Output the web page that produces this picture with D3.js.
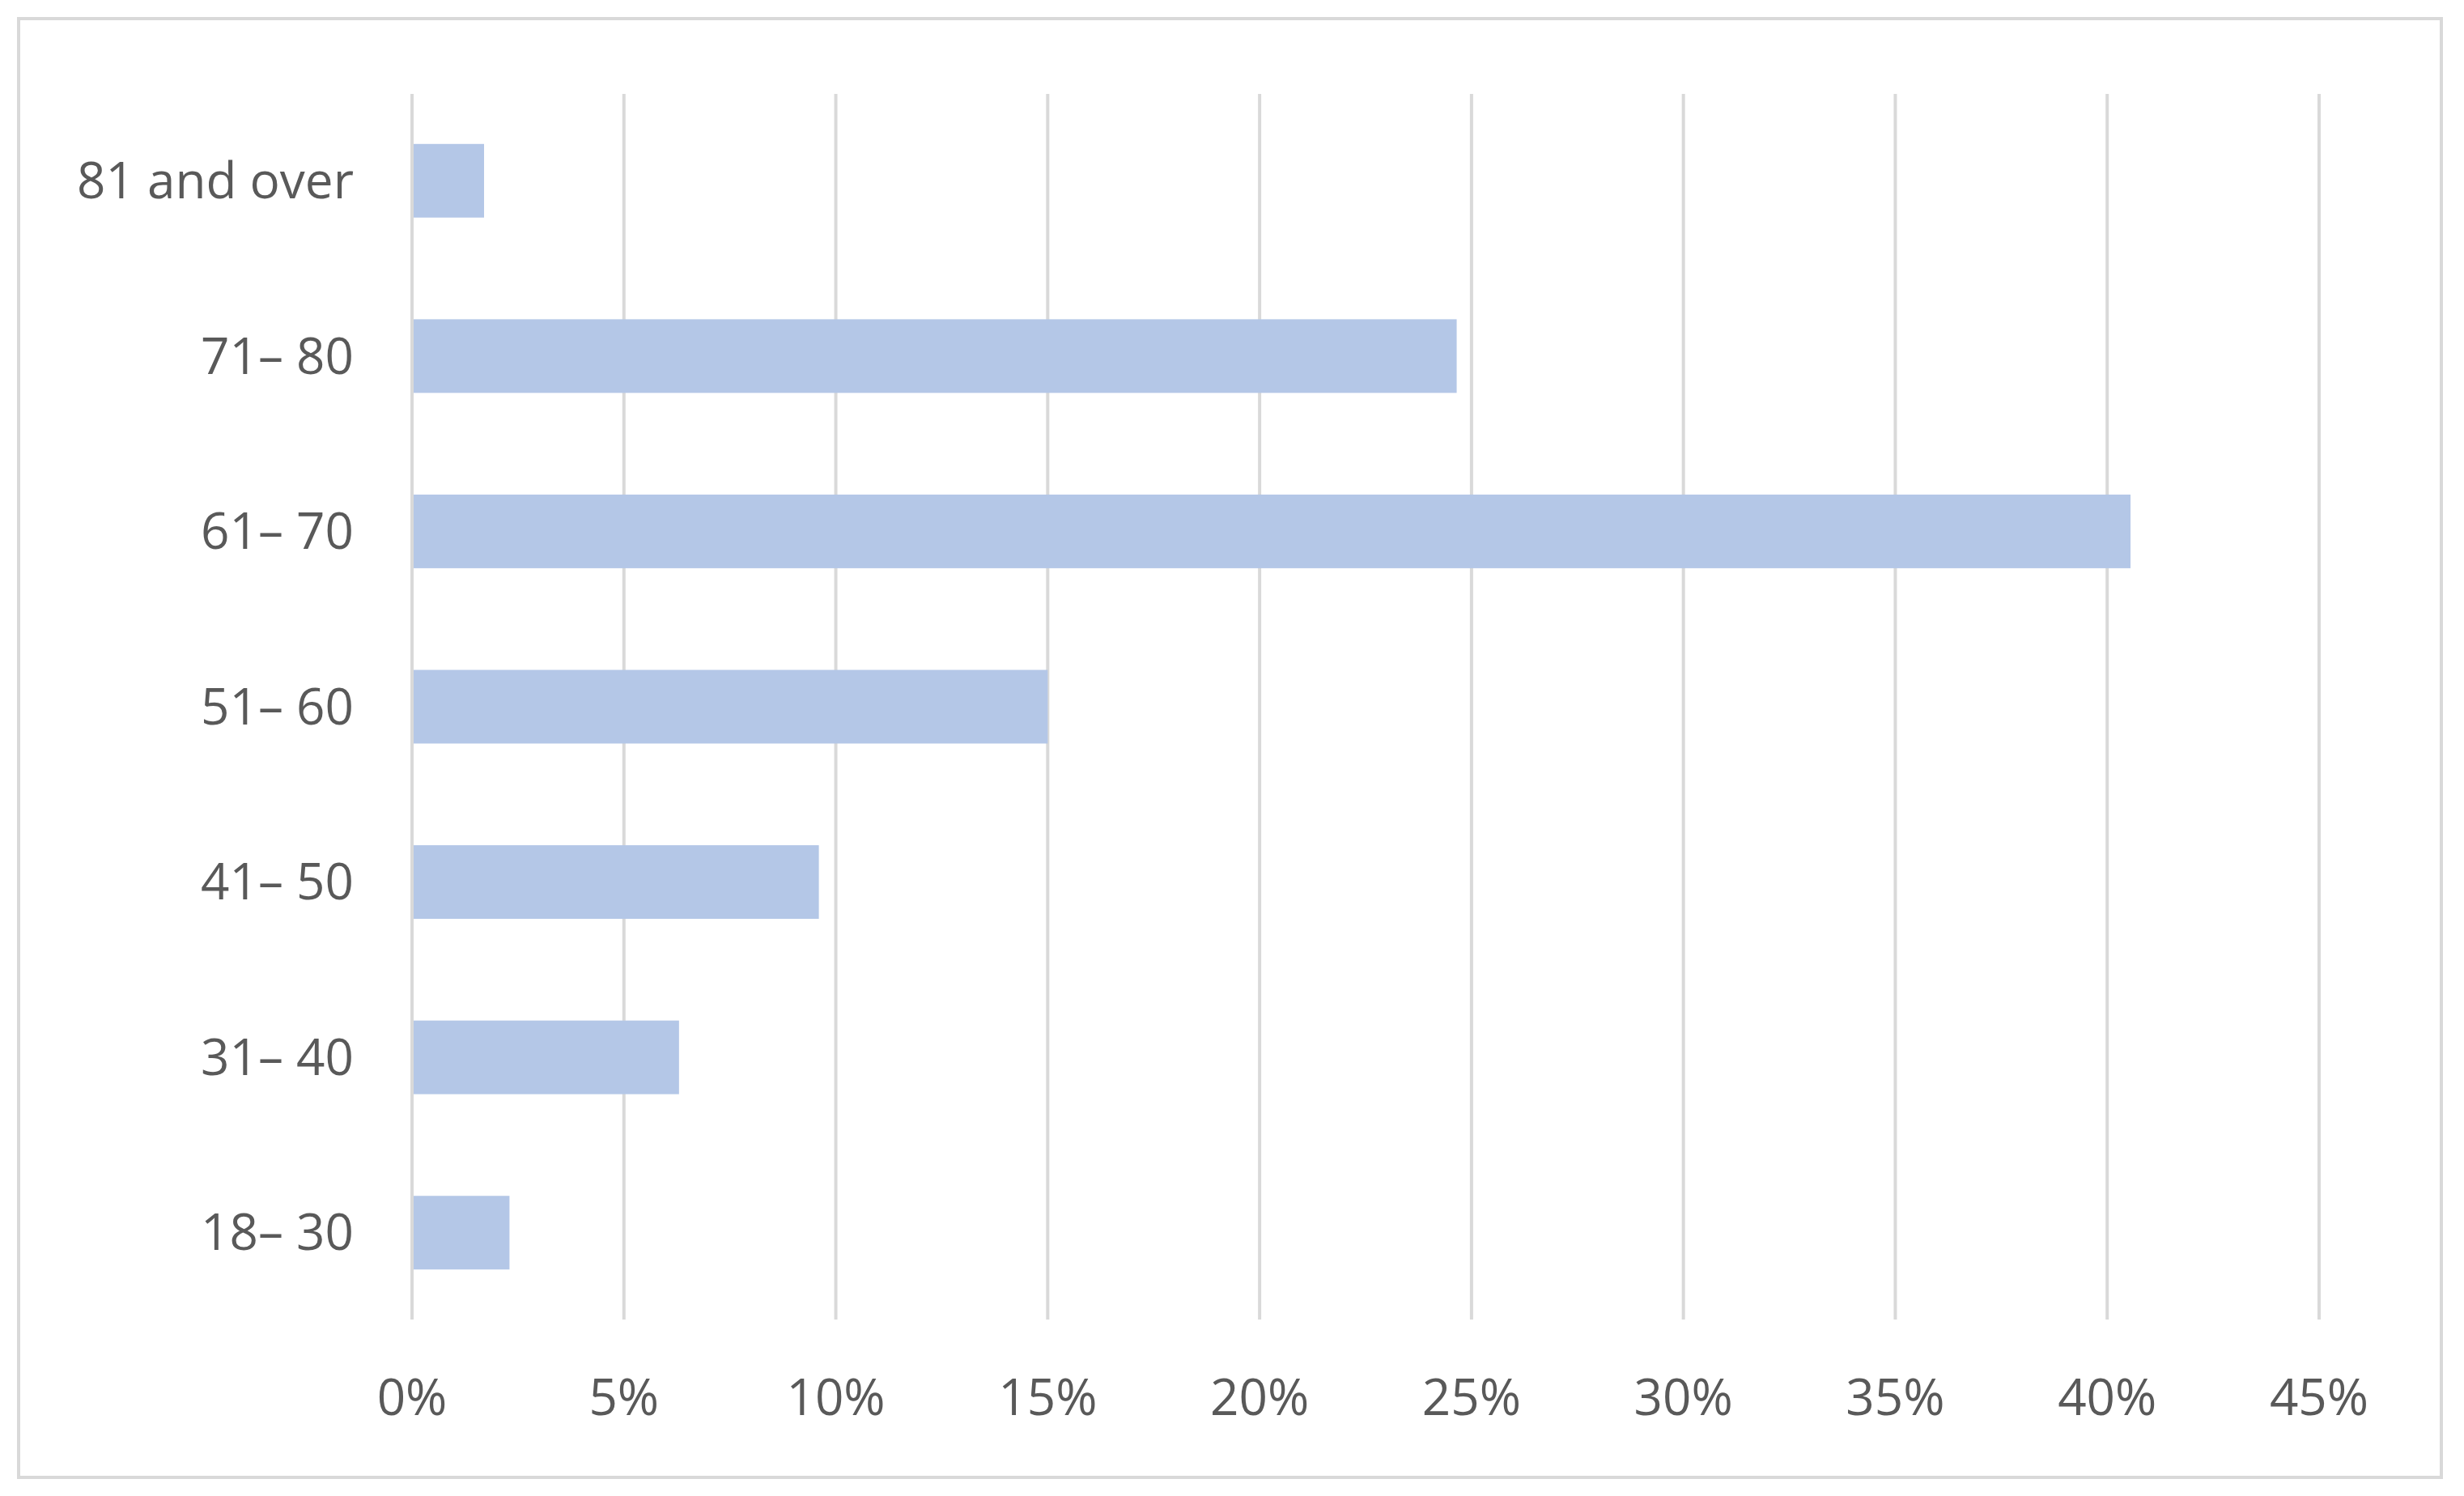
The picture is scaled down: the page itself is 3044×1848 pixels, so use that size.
<!DOCTYPE html>
<html>
<head>
<meta charset="utf-8">
<script src="https://cdn.jsdelivr.net/npm/d3@7.9.0/dist/d3.min.js"></script>
<style>
  body { margin: 0; background: #fff; }
  text { font-family: "Liberation Sans Narrow", "Open Sans", sans-serif; fill: #595959; }
</style>
</head>
<body>
<svg id="chart" width="3044" height="1848"></svg>
<script>
// Age groups, top to bottom as drawn
const categories = ['81 and over', '71\u2013 80', '61\u2013 70', '51\u2013 60', '41\u2013 50', '31\u2013 40', '18\u2013 30'];
const shares = [1.7, 24.65, 40.55, 15.0, 9.6, 6.3, 2.3];
const ticks = [0, 5, 10, 15, 20, 25, 30, 35, 40, 45];

const svg = d3.select('#chart');

// outer frame
svg.append('rect')
  .attr('x', 23).attr('y', 23)
  .attr('width', 2993).attr('height', 1802)
  .attr('fill', '#fff').attr('stroke', '#d9d9d9').attr('stroke-width', 4);

const x = d3.scaleLinear().domain([0, 45]).range([509, 2865]);
const y = d3.scaleBand().domain(categories).range([115, 1631]).paddingInner(0.58).paddingOuter(0.29);

// gridlines
svg.selectAll('line.grid')
  .data(ticks)
  .join('line')
  .attr('x1', d => x(d)).attr('x2', d => x(d))
  .attr('y1', 116).attr('y2', 1630)
  .attr('stroke', '#d9d9d9').attr('stroke-width', 4);

// bars
svg.selectAll('rect.bar')
  .data(shares)
  .join('rect')
  .attr('x', x(0) + 2)
  .attr('y', (d, i) => y(categories[i]))
  .attr('width', d => x(d) - x(0) - 2)
  .attr('height', y.bandwidth())
  .attr('fill', '#b4c7e7');

// category labels
svg.selectAll('text.cat')
  .data(categories)
  .join('text')
  .attr('x', 437)
  .attr('y', d => y(d) + y.bandwidth() / 2)
  .attr('dy', '0.35em')
  .attr('text-anchor', 'end')
  .attr('font-size', 62)
  .text(d => d);

// tick labels
svg.selectAll('text.tick')
  .data(ticks)
  .join('text')
  .attr('x', d => x(d))
  .attr('y', 1748)
  .attr('text-anchor', 'middle')
  .attr('font-size', 62)
  .text(d => d + '%');
</script>
</body>
</html>
